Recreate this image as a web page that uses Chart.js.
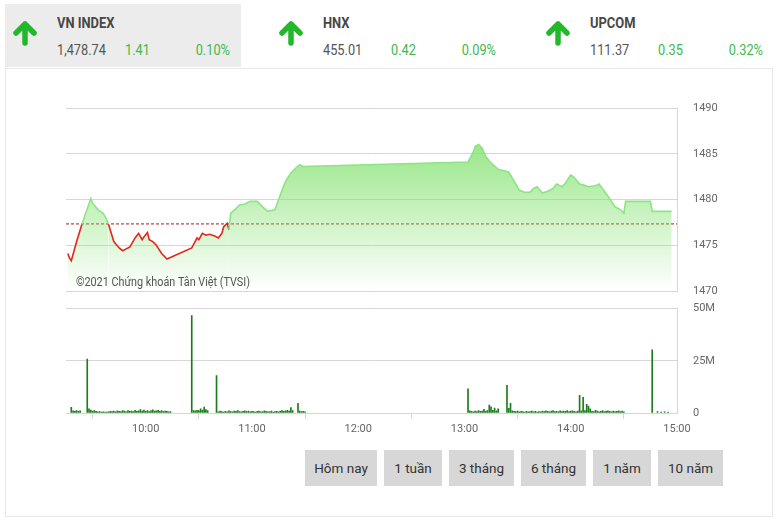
<!DOCTYPE html>
<html>
<head>
<meta charset="utf-8">
<script src="https://cdn.jsdelivr.net/npm/chart.js@4/dist/chart.umd.min.js"></script>
<style>
  body { margin: 0; width: 779px; height: 523px; background: #fff; font-family: Roboto, sans-serif; position: relative; overflow: hidden; }
  .idx { position: absolute; top: 4px; width: 236px; height: 63px; }
  .idx.active { background: #ececec; }
  .idx svg { position: absolute; left: 7px; top: 16px; }
  .idx .name { position: absolute; left: 52px; top: 10px; font-size: 15px; font-weight: bold; color: #474747; transform: scaleX(0.86); transform-origin: left; }
  .idx .val, .idx .chg, .idx .pct { position: absolute; top: 38px; font-size: 14.5px; transform: scaleX(0.88); }
  .idx .val { left: 52px; color: #555; transform-origin: left; }
  .idx .chg { left: 120px; color: #3cb94a; transform-origin: left; }
  .idx .pct { right: 11px; color: #3cb94a; transform-origin: right; }
  .panel { position: absolute; left: 5px; top: 68px; width: 766px; height: 447px; border: 1px solid #e8e8e8; }
  .box { position: absolute; left: 0; width: 779px; }
  .btns { position: absolute; top: 450px; left: 305px; display: flex; gap: 7px; }
  .btns div { height: 36px; line-height: 36px; background: #d7d7d7; color: #333; font-size: 13.5px; text-align: center; }
</style>
</head>
<body>
<div class="panel"></div>

<div class="idx active" style="left:5px">
  <svg width="26" height="26" viewBox="0 0 26 26"><path d="M13 23 V5 M4 13 L13 4 L22 13" stroke="#22b82a" stroke-width="5.5" fill="none" stroke-linecap="round" stroke-linejoin="round"/></svg>
  <div class="name">VN INDEX</div><div class="val">1,478.74</div><div class="chg">1.41</div><div class="pct">0.10%</div>
</div>
<div class="idx" style="left:271px">
  <svg width="26" height="26" viewBox="0 0 26 26"><path d="M13 23 V5 M4 13 L13 4 L22 13" stroke="#22b82a" stroke-width="5.5" fill="none" stroke-linecap="round" stroke-linejoin="round"/></svg>
  <div class="name">HNX</div><div class="val">455.01</div><div class="chg">0.42</div><div class="pct">0.09%</div>
</div>
<div class="idx" style="left:538px">
  <svg width="26" height="26" viewBox="0 0 26 26"><path d="M13 23 V5 M4 13 L13 4 L22 13" stroke="#22b82a" stroke-width="5.5" fill="none" stroke-linecap="round" stroke-linejoin="round"/></svg>
  <div class="name">UPCOM</div><div class="val">111.37</div><div class="chg">0.35</div><div class="pct">0.32%</div>
</div>

<div class="box" style="top:98px;height:210px"><canvas id="priceChart"></canvas></div>
<div class="box" style="top:300px;height:140px"><canvas id="volChart"></canvas></div>

<div class="btns">
  <div style="width:72px">Hôm nay</div>
  <div style="width:58px">1 tuần</div>
  <div style="width:65px">3 tháng</div>
  <div style="width:65px">6 tháng</div>
  <div style="width:58px">1 năm</div>
  <div style="width:65px">10 năm</div>
</div>

<script>
// session data, VN-Index intraday
var refPrice = 1477.33;
var timeTicks = ['10:00', '11:00', '12:00', '13:00', '14:00', '15:00'];

var priceTimes = ['9:16', '9:17', '9:18', '9:21', '9:24', '9:29', '9:30', '9:33', '9:36', '9:38', '9:39', '9:42',
  '9:45', '9:47', '9:49', '9:51', '9:54', '9:56', '9:58', '9:59', '10:01', '10:02', '10:04', '10:06', '10:09',
  '10:12', '10:26', '10:29', '10:30', '10:32', '10:34', '10:36', '10:39', '10:41', '10:43', '10:44', '10:46', '10:47', '10:48',
  '10:51', '10:53', '10:56', '10:59', '11:03', '11:06', '11:09', '11:11', '11:13', '11:16', '11:19', '11:22', '11:25', '11:27', '11:29',
  '13:02', '13:05', '13:06', '13:08', '13:10', '13:12', '13:15', '13:19', '13:25', '13:28',
  '13:31', '13:34', '13:37', '13:39', '13:41', '13:44', '13:47', '13:50', '13:52', '13:55', '13:57',
  '14:00', '14:02', '14:05', '14:07', '14:10', '14:14', '14:16', '14:19', '14:22', '14:25', '14:28',
  '14:30', '14:31', '14:45', '14:46', '14:57'];
var priceValues = [1474.1, 1473.6, 1473.3, 1475.4, 1477.3, 1480.1, 1479.6, 1478.9, 1478.5, 1477.8, 1477.3, 1475.4,
  1474.7, 1474.4, 1474.6, 1474.8, 1475.8, 1476.3, 1475.6, 1475.9, 1476.4, 1475.6, 1475.4, 1475.0, 1474.1,
  1473.5, 1474.7, 1475.8, 1475.6, 1476.3, 1476.1, 1476.2, 1476.0, 1475.8, 1476.3, 1477.0, 1477.4, 1476.7, 1478.5,
  1479.0, 1479.4, 1479.5, 1479.8, 1479.8, 1479.2, 1478.7, 1478.8, 1478.9, 1480.5, 1482.0, 1482.9, 1483.5, 1483.8, 1483.6,
  1484.1, 1485.2, 1485.8, 1486.0, 1485.6, 1484.7, 1484.0, 1483.3, 1483.0, 1482.0,
  1481.0, 1480.8, 1480.8, 1481.2, 1481.4, 1480.7, 1480.9, 1481.2, 1481.7, 1481.4, 1481.8,
  1482.7, 1482.4, 1481.7, 1481.6, 1481.4, 1481.5, 1481.7, 1480.9, 1480.1, 1479.2, 1478.9,
  1478.5, 1479.8, 1479.8, 1478.7, 1478.7];

// volume in millions, one value per minute (null = no trade)
var volAmStart = '9:15';
var volAm = [null, null, null, 2.7, 1.0, 0.9, 1.1, 0.8, 1.0, null, null, null, 25.8,
  2.0, 1.4, 0.9, 1.1, 0.8, 0.6, 0.7, 0.5, 0.6, 0.5, 0.4, 0.6, 0.8, 0.7, 0.9, 0.6, 1.0, 0.8, 0.7, 1.1,
  0.9, 0.6, 1.2, 0.8, 0.9, 0.7, 1.3, 0.8, 1.0, 1.6, 0.9, 1.4, 0.8, 1.1, 0.7, 1.2, 1.5, 0.9, 1.0, 1.3,
  0.8, 1.1, 0.7, 0.9, 0.8, 0.6, 0.7,
  null, null, null, null, null, null, null, null, null, null, null,
  46.7, 1.2, 1.0, 1.3, 1.1, 2.0, 1.4, 2.8, 1.6, 1.2,
  null, null, null, null, 17.9,
  0.6, 0.9, 0.7, 0.5, 0.8, 0.6, 1.0, 0.7, 0.6, 0.9, 0.8, 1.1, 0.7, 0.6, 0.8, 1.0, 0.7, 0.9, 0.6, 0.8,
  0.7, 0.5, 0.8, 0.9, 0.6, 0.7, 1.0, 0.8, 0.6, 0.7, 0.9, 0.5, 0.7, 0.8, 0.6, 0.9, 1.1, 0.8, 1.0, 1.3,
  0.9, 2.6, 1.2,
  null, null, 4.6, 0.9, 0.7, 0.8, 0.6];

var volPmStart = '13:00';
var volPm = [null, null, 11.6,
  1.0, 0.8, 0.6, 0.9, 0.7, 1.1, 0.8, 0.9, 1.7, 0.9, 1.2, 3.8, 3.0, 1.3, 2.4, 1.0, 2.0,
  null, null, null, null, 13.2, 2.2, 4.6,
  1.0, 0.8, 0.7, 0.9, 0.6, 0.8, 0.7, 0.5, 0.8, 0.6, 0.7, 0.9, 0.6, 0.8, 0.5, 0.7, 0.6, 0.9, 0.7, 1.0,
  0.8, 0.6, 0.9, 1.1, 0.7, 0.8, 0.6, 1.0, 0.7, 0.9, 0.8, 1.2, 0.7, 0.9, 1.0, 0.8, 0.6, 0.9,
  8.5, 1.0, 7.5, 1.2, 4.2, 3.3, 2.0,
  0.8, 0.7, 1.3, 0.9, 0.6, 0.8, 1.1, 0.7, 0.9, 1.0, 0.8, 0.6, 0.9, 0.7, 0.8, 1.0, 0.7, 0.9, 0.6];

var volExtraTimes = ['14:46', '14:49', '14:51', '14:53', '14:55'];
var volExtraValues = [30.2, 0.7, 0.5, 0.6, 0.5];

function toMin(s) {
  var p = s.split(':');
  return parseInt(p[0]) * 60 + parseInt(p[1]);
}
function fmt(m) {
  var h = Math.floor(m / 60), mm = m % 60;
  return h + ':' + (mm < 10 ? '0' : '') + mm;
}

var xMin = toMin('9:15'), xMax = toMin('15:00');
var green = '#8ee385', red = '#e3261e', gridCol = '#d6d6d6';
Chart.defaults.font.family = 'Roboto';
Chart.defaults.color = '#666';

var pricePoints = priceTimes.map(function(t, i) { return { x: toMin(t), y: priceValues[i] }; });

var volPoints = [];
volAm.forEach(function(v, i) { if (v !== null) volPoints.push({ x: toMin(volAmStart) + i, y: v }); });
volPm.forEach(function(v, i) { if (v !== null) volPoints.push({ x: toMin(volPmStart) + i, y: v }); });
volExtraTimes.forEach(function(t, i) { volPoints.push({ x: toMin(t), y: volExtraValues[i] }); });

var copyright = {
  id: 'copyright',
  afterDraw: function(chart) {
    var c = chart.ctx, a = chart.chartArea;
    c.save();
    c.translate(a.left + 10, a.bottom - 5);
    c.scale(0.9, 1);
    c.font = '12px Roboto';
    c.fillStyle = '#555';
    c.textBaseline = 'alphabetic';
    c.fillText('\u00a92021 Chứng khoán Tân Việt (TVSI)', 0, 0);
    c.restore();
  }
};

var priceChart = new Chart(document.getElementById('priceChart'), {
  type: 'line',
  data: {
    datasets: [{
      data: pricePoints,
      borderWidth: 1.6,
      borderColor: green,
      pointRadius: 0,
      tension: 0,
      fill: 'start',
      order: 0,
      segment: {
        borderColor: function(ctx) {
          return (ctx.p0.parsed.y + ctx.p1.parsed.y) / 2 < refPrice ? red : green;
        }
      },
      backgroundColor: function(ctx) {
        var a = ctx.chart.chartArea;
        if (!a) return 'rgba(128,225,108,0.5)';
        var g = ctx.chart.ctx.createLinearGradient(0, a.top, 0, a.bottom);
        g.addColorStop(0, 'rgba(128,225,108,1)');
        g.addColorStop(1, 'rgba(128,225,108,0)');
        return g;
      }
    }, {
      // reference (previous close) line
      data: [{ x: xMin, y: refPrice }, { x: xMax, y: refPrice }],
      borderColor: '#a31d1d',
      borderWidth: 1,
      borderDash: [3, 2],
      pointRadius: 0,
      fill: false,
      order: 1
    }]
  },
  options: {
    responsive: true,
    maintainAspectRatio: false,
    animation: false,
    layout: { padding: { left: 66, top: 10, right: 0, bottom: 17 } },
    plugins: { legend: { display: false }, tooltip: { enabled: false } },
    scales: {
      x: { type: 'linear', min: xMin, max: xMax, display: false },
      y: {
        position: 'right',
        min: 1470, max: 1490,
        ticks: { stepSize: 5, padding: 2, font: { size: 11 }, color: '#666',
          callback: function(v) { return String(v); } },
        grid: { color: gridCol, drawTicks: true, tickLength: 14, tickColor: 'transparent' },
        border: { display: true, color: gridCol },
        afterFit: function(scale) { scale.width = 102; }
      }
    }
  },
  plugins: [copyright]
});

var volChart = new Chart(document.getElementById('volChart'), {
  type: 'bar',
  data: {
    datasets: [{
      data: volPoints,
      backgroundColor: '#1b7d1b',
      barThickness: 1,
      borderWidth: 0
    }]
  },
  options: {
    responsive: true,
    maintainAspectRatio: false,
    animation: false,
    layout: { padding: { left: 66, top: 7, right: 0, bottom: 0 } },
    plugins: { legend: { display: false }, tooltip: { enabled: false } },
    scales: {
      x: {
        type: 'linear', min: xMin, max: xMax, offset: false,
        afterBuildTicks: function(scale) {
          scale.ticks = timeTicks.map(function(t) { return { value: toMin(t) }; });
        },
        ticks: { callback: function(v) { return fmt(v); }, font: { size: 11 }, color: '#666', padding: 4, maxRotation: 0 },
        grid: { drawOnChartArea: false, drawTicks: true, tickLength: 6, color: gridCol },
        border: { display: true, color: gridCol },
        afterFit: function(scale) { scale.height = 27; }
      },
      y: {
        position: 'right',
        min: 0, max: 50,
        ticks: { stepSize: 25, padding: 2, font: { size: 11 }, color: '#666',
          callback: function(v) { return v === 0 ? '0' : v + 'M'; } },
        grid: { color: gridCol, drawTicks: true, tickLength: 14, tickColor: 'transparent' },
        border: { display: true, color: gridCol },
        afterFit: function(scale) { scale.width = 102; }
      }
    }
  }
});
</script>
</body>
</html>
